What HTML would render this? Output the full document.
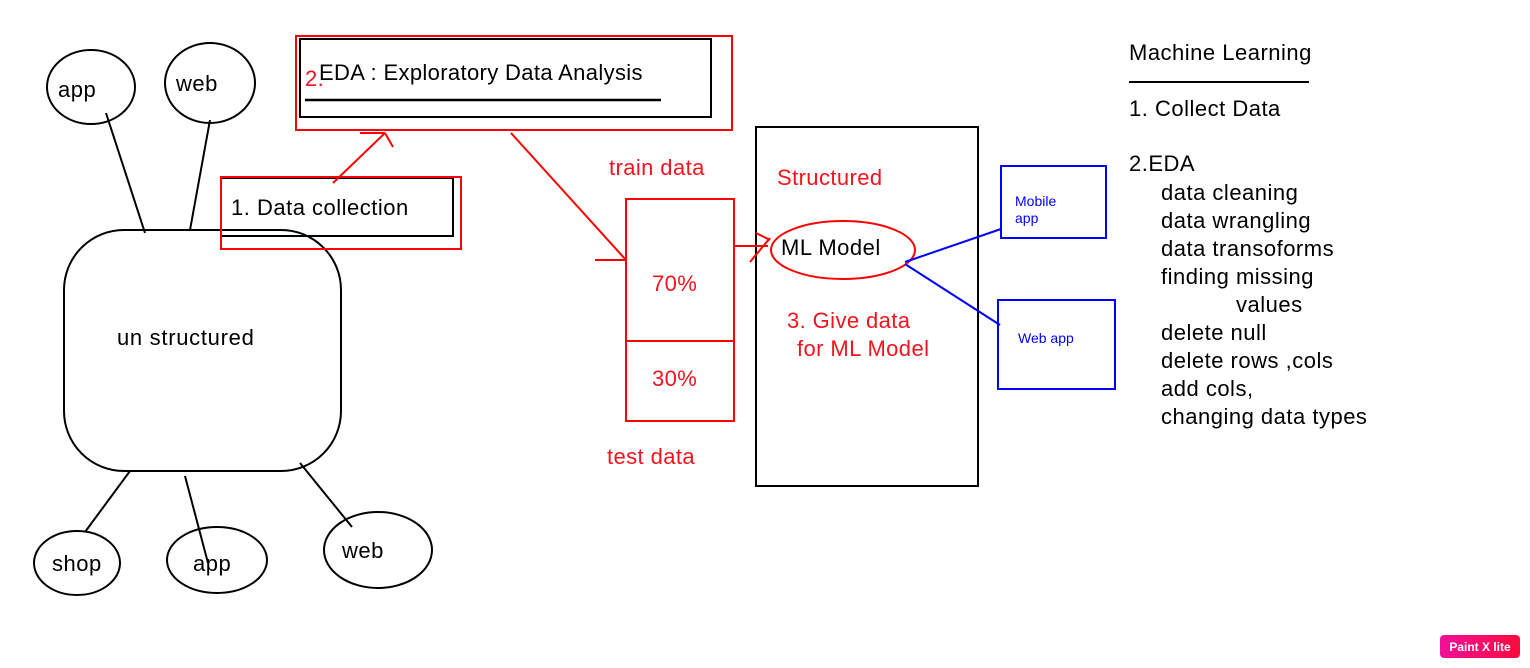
<!DOCTYPE html>
<html><head><meta charset="utf-8"><style>
html,body{margin:0;padding:0;background:#fff;width:1530px;height:668px;overflow:hidden}
svg{display:block}
text{font-family:"Liberation Sans",Arial,sans-serif}
</style></head><body>
<svg width="1530" height="668" viewBox="0 0 1530 668" xmlns="http://www.w3.org/2000/svg">
<defs><linearGradient id="g" x1="0" x2="1"><stop offset="0" stop-color="#f0109a"/><stop offset="1" stop-color="#ff0a3c"/></linearGradient></defs>
<g fill="none" stroke="#000" stroke-width="2">
<ellipse cx="91" cy="87" rx="44" ry="37"/>
<ellipse cx="210" cy="83" rx="45" ry="40"/>
<line x1="106" y1="113" x2="145" y2="233"/>
<line x1="210" y1="120" x2="190" y2="230"/>
<rect x="64" y="230" width="277" height="241" rx="60"/>
<line x1="130" y1="471" x2="85" y2="532"/>
<line x1="185" y1="476" x2="208" y2="563"/>
<line x1="300" y1="463" x2="352" y2="527"/>
<ellipse cx="77" cy="563" rx="43" ry="32"/>
<ellipse cx="217" cy="560" rx="50" ry="33"/>
<ellipse cx="378" cy="550" rx="54" ry="38"/>
<rect x="221" y="178" width="232" height="58"/>
<rect x="300" y="39" width="411" height="78"/>
<line x1="305" y1="100" x2="661" y2="100" stroke-width="2.5"/>
<rect x="756" y="127" width="222" height="359"/>
<line x1="1129" y1="82" x2="1309" y2="82"/>
</g>
<g fill="none" stroke="#f00" stroke-width="2">
<rect x="221" y="177" width="240" height="72"/>
<rect x="296" y="36" width="436" height="94"/>
<line x1="333" y1="183" x2="385" y2="133"/>
<line x1="360" y1="133" x2="385" y2="133"/>
<line x1="385" y1="133" x2="393" y2="147"/>
<line x1="511" y1="133" x2="626" y2="260"/>
<line x1="595" y1="260" x2="626" y2="260"/>
<line x1="626" y1="230" x2="626" y2="266"/>
<rect x="626" y="199" width="108" height="222"/>
<line x1="626" y1="341" x2="734" y2="341"/>
<line x1="734" y1="246" x2="768" y2="246"/>
<line x1="750" y1="262" x2="770" y2="238"/>
<line x1="756" y1="233" x2="770" y2="240"/>
<ellipse cx="843" cy="250" rx="72" ry="29"/>
</g>
<g fill="none" stroke="#00f" stroke-width="2">
<line x1="905" y1="262" x2="1001" y2="229"/>
<line x1="905" y1="264" x2="1000" y2="325"/>
<rect x="1001" y="166" width="105" height="72"/>
<rect x="998" y="300" width="117" height="89"/>
</g>
<g font-size="22" fill="#000" letter-spacing="0.5">
<text x="58" y="97">app</text>
<text x="176" y="91">web</text>
<text x="117" y="345" letter-spacing="0.7">un structured</text>
<text x="52" y="571">shop</text>
<text x="193" y="571">app</text>
<text x="342" y="558">web</text>
<text x="231" y="215">1. Data collection</text>
<text x="319" y="80" letter-spacing="0.35">EDA : Exploratory Data Analysis</text>
<text x="781" y="255">ML Model</text>
<text x="1129" y="60">Machine Learning</text>
<text x="1129" y="116">1. Collect Data</text>
<text x="1129" y="171">2.EDA</text>
<text x="1161" y="200">data cleaning</text>
<text x="1161" y="228">data wrangling</text>
<text x="1161" y="256">data transoforms</text>
<text x="1161" y="284">finding missing</text>
<text x="1236" y="312">values</text>
<text x="1161" y="340">delete null</text>
<text x="1161" y="368">delete rows ,cols</text>
<text x="1161" y="396">add cols,</text>
<text x="1161" y="424">changing data types</text>
</g>
<g font-size="22" fill="#f0141e" letter-spacing="0.4">
<text x="305" y="86">2.</text>
<text x="609" y="175">train data</text>
<text x="652" y="291">70%</text>
<text x="652" y="386">30%</text>
<text x="607" y="464">test data</text>
<text x="777" y="185">Structured</text>
<text x="787" y="328">3. Give data</text>
<text x="797" y="356">for ML Model</text>
</g>
<g font-size="14" fill="#00f">
<text x="1015" y="206">Mobile</text>
<text x="1015" y="223">app</text>
<text x="1018" y="343">Web app</text>
</g>
<rect x="1440" y="635" width="80" height="23" rx="4" fill="url(#g)"/>
<text x="1480" y="651" font-size="12" font-weight="bold" fill="#fff" text-anchor="middle">Paint X lite</text>
</svg>
</body></html>
